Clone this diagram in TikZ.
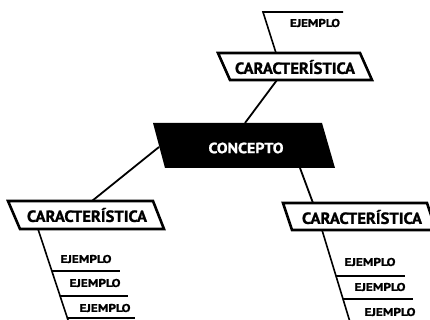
\documentclass[tikz,border=0pt]{standalone}
\usepackage{fontspec}
\usepackage{graphicx}
\setmainfont{PT Sans}[BoldFont={PT Sans Bold},BoldFeatures={FakeBold=1.2}]
\newcommand\fitwh[3]{\resizebox{#1}{#2}{\bfseries #3}}
\tikzset{
  boxline/.style={line width=2.6pt, line join=miter},
  link/.style={line width=1.8pt},
  exline/.style={line width=1.6pt},
  lbl/.style={inner sep=0pt, text=black},
}
\begin{document}
\begin{tikzpicture}[x=1pt,y=-1pt]
\useasboundingbox (0,0) rectangle (430,320);
\clip (0,0) rectangle (430,320);
\fill[white] (0,0) rectangle (430,320);
% corners
\coordinate (tTL) at (218,53); \coordinate (tTR) at (360,53);
\coordinate (tBR) at (372,80); \coordinate (tBL) at (230,80);
\coordinate (cTL) at (153,123); \coordinate (cTR) at (322,123);
\coordinate (cBR) at (335,168); \coordinate (cBL) at (165,168);
\coordinate (lTL) at (8,201); \coordinate (lTR) at (153,201);
\coordinate (lBR) at (164,229); \coordinate (lBL) at (20,229);
\coordinate (rTL) at (283,203); \coordinate (rTR) at (427,203);
\coordinate (rBR) at (436,230); \coordinate (rBL) at (292,230);
% connector ends
\coordinate (tTop) at (276,53); \coordinate (tBot) at (277,80);
\coordinate (cTop) at (245,123); \coordinate (cLeft) at (159,147);
\coordinate (cBot) at (300,168);
\coordinate (lTop) at (92,201); \coordinate (lBot) at (38,229);
\coordinate (rTop) at (313,203); \coordinate (rBot) at (322,230);
% top example
\coordinate (e0a) at (263,12); \coordinate (e0b) at (343,12);
\draw[exline] (e0b) -- (e0a) -- (tTop);
\node[lbl] (e0) at (315,23) {\fitwh{50pt}{8pt}{EJEMPLO}};
% boxes
\draw[boxline] (tTL) -- (tTR) -- (tBR) -- (tBL) -- cycle;
\node[lbl] (t1) at (295,67) {\fitwh{120pt}{14pt}{CARACTERÍSTICA}};
\fill[black] (cTL) -- (cTR) -- (cBR) -- (cBL) -- cycle;
\node[lbl] (c) at (246,148) {\fitwh{75pt}{10.5pt}{\color{white}CONCEPTO}};
\draw[boxline] (lTL) -- (lTR) -- (lBR) -- (lBL) -- cycle;
\node[lbl] (t2) at (87,215) {\fitwh{120pt}{14pt}{CARACTERÍSTICA}};
\draw[boxline] (rTL) -- (rTR) -- (rBR) -- (rBL) -- cycle;
\node[lbl] (t3) at (362,217) {\fitwh{120pt}{14pt}{CARACTERÍSTICA}};
% links
\draw[link] (tBot) -- (cTop);
\draw[link] (cLeft) -- (lTop);
\draw[link] (cBot) -- (rTop);
% left examples
\coordinate (lEnd) at (68,320);
\draw[exline] (lBot) -- (lEnd);
\coordinate (l1a) at (52,271); \coordinate (l1b) at (120,271);
\coordinate (l2a) at (60,296); \coordinate (l2b) at (128,296);
\coordinate (l3a) at (67,318); \coordinate (l3b) at (135,318);
\draw[exline] (l1a) -- (l1b);
\draw[exline] (l2a) -- (l2b);
\draw[exline] (l3a) -- (l3b);
\node[lbl] (le1) at (86,259) {\fitwh{51pt}{8pt}{EJEMPLO}};
\node[lbl] (le2) at (95,283) {\fitwh{51pt}{8pt}{EJEMPLO}};
\node[lbl] (le3) at (105,308) {\fitwh{51pt}{8pt}{EJEMPLO}};
% right examples
\coordinate (rEnd) at (350,322);
\draw[exline] (rBot) -- (rEnd);
\coordinate (r1a) at (336,276); \coordinate (r1b) at (405,276);
\coordinate (r2a) at (343,299); \coordinate (r2b) at (413,299);
\draw[exline] (r1a) -- (r1b);
\draw[exline] (r2a) -- (r2b);
\node[lbl] (re1) at (370,262) {\fitwh{51pt}{8pt}{EJEMPLO}};
\node[lbl] (re2) at (380,287) {\fitwh{51pt}{8pt}{EJEMPLO}};
\node[lbl] (re3) at (390,312) {\fitwh{51pt}{8pt}{EJEMPLO}};
\end{tikzpicture}
\end{document}
